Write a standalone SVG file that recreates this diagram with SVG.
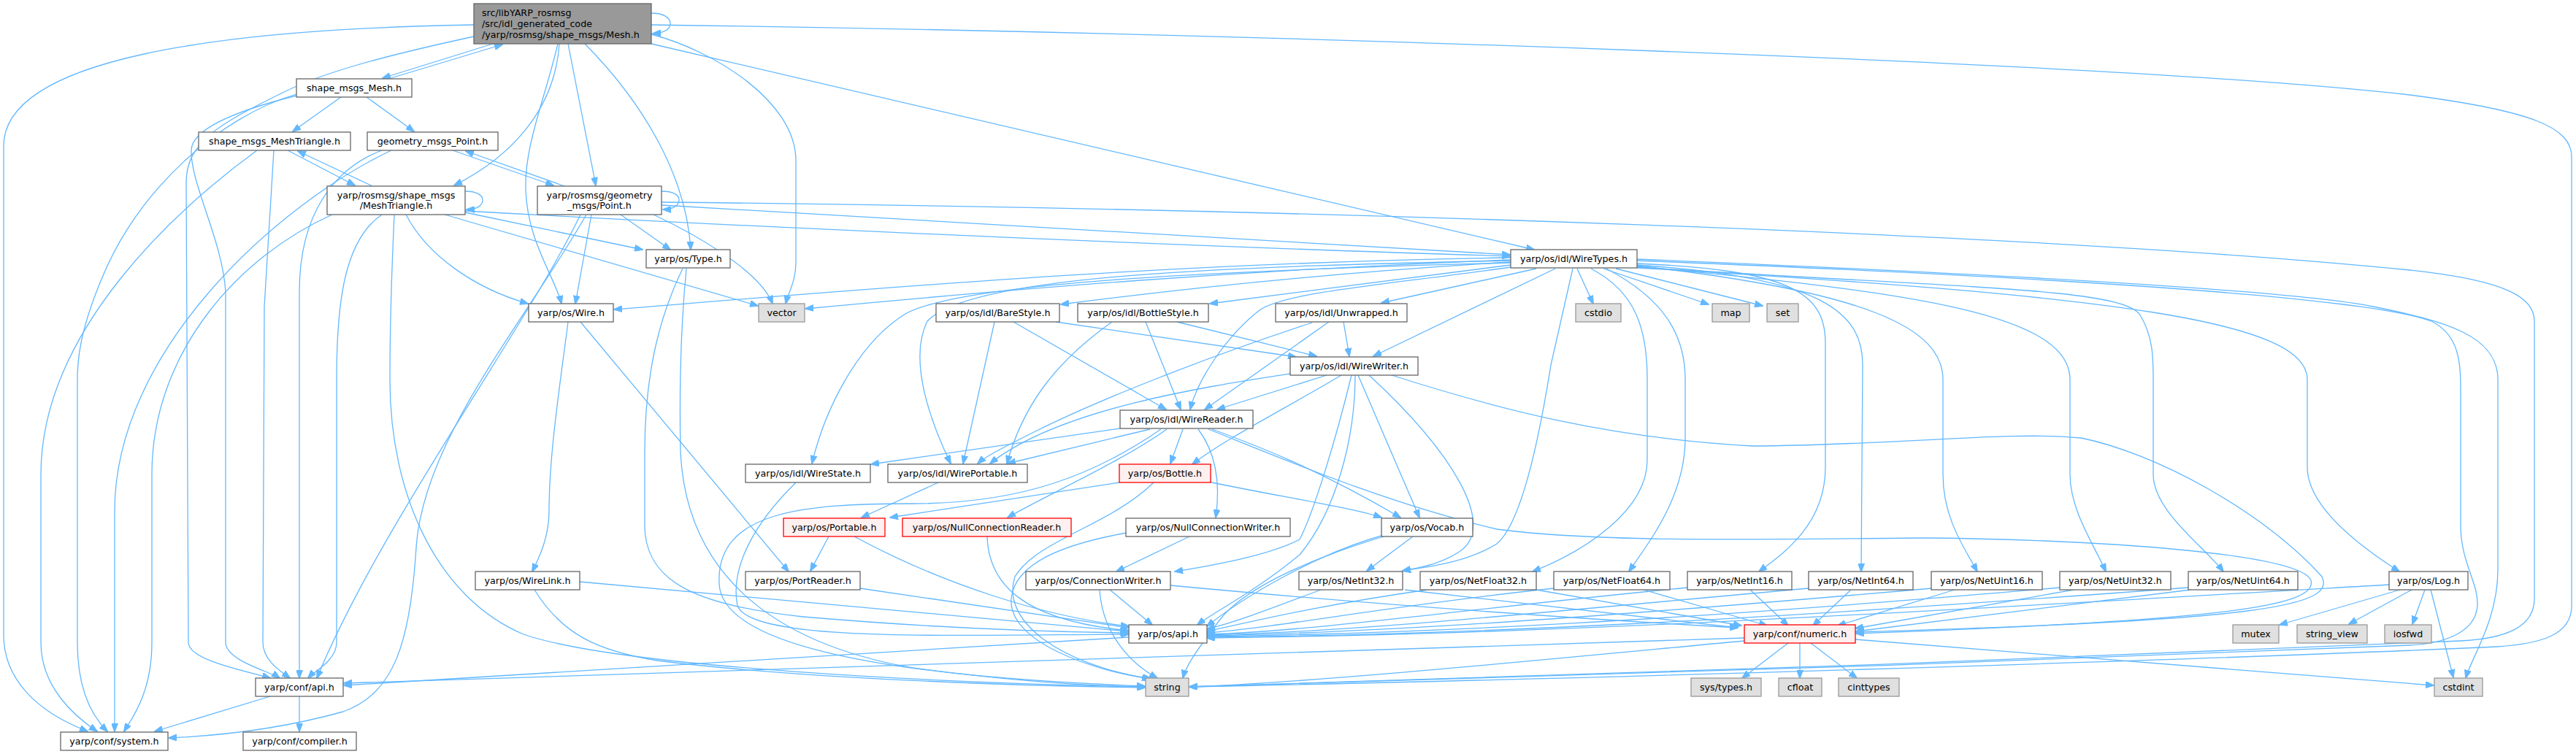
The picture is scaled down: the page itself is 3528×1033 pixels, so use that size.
<svg xmlns="http://www.w3.org/2000/svg" width="3528" height="1033" viewBox="0 0 3528 1033">
<style>
.n rect{fill:#ffffff;stroke:#666666;stroke-width:1.3}
.g rect{fill:#e0e0e0;stroke:#999999;stroke-width:1.3}
.r rect{fill:#fff0f0;stroke:#ff0000;stroke-width:1.3}
.m rect{fill:#999999;stroke:#666666;stroke-width:1.3}
text{font-family:"DejaVu Sans",Verdana,sans-serif;font-size:12.7px;fill:#000000;text-anchor:middle}
.m text{text-anchor:start}
.e path{fill:none;stroke:#63b8ff;stroke-width:1.3;marker-end:url(#a)}
</style>
<defs>
<marker id="a" markerWidth="12" markerHeight="9" refX="11" refY="4.5" orient="auto" markerUnits="userSpaceOnUse"><path d="M0,0L12,4.5L0,9z" fill="#63b8ff" stroke="#63b8ff" stroke-width="1"/></marker>
</defs>
<rect width="3528" height="1033" fill="#ffffff"/>
<g id="edges" class="e">
<path d="M892,18 C910,18 918,25 918,32 C918,40 910,45 894,46"/>
<path d="M675,60 L524,107"/>
<path d="M532,108 L688,61"/>
<path d="M649,34 C300,40 5,80 5,200 L5,870 C5,930 50,975 120,1002"/>
<path d="M649,50 C520,78 440,100 385,128 C300,170 255,195 255,250 L258,880 C258,905 340,920 370,929"/>
<path d="M406,129 C300,160 190,260 140,380 C115,440 106,480 106,520 L106,880 C106,950 130,985 147,1002"/>
<path d="M406,131 C330,150 264,175 262,205 C260,250 305,330 309,400 L309,880 C309,905 370,920 383,929"/>
<path d="M352,206 C250,280 56,450 56,650 L56,880 C56,940 100,980 133,1002"/>
<path d="M375,206 L362,420 L360,880 C360,905 385,920 397,929"/>
<path d="M536,206 C380,280 157,480 157,700 L157,1002"/>
<path d="M523,206 C460,230 410,290 410,400 L410,929"/>
<path d="M455,294 C330,350 208,480 208,650 L208,880 C208,950 180,985 170,1002"/>
<path d="M523,294 C470,330 461,420 461,520 L461,880 C461,905 430,920 422,929"/>
<path d="M766,60 C760,150 700,215 622,254"/>
<path d="M764,60 C745,140 718,200 720,260 C722,330 760,380 769,416"/>
<path d="M778,60 L816,254"/>
<path d="M801,60 C880,140 940,240 946,342"/>
<path d="M892,47 C980,70 1090,140 1090,220 L1090,360 C1090,385 1080,400 1076,416"/>
<path d="M892,60 L2101,342"/>
<path d="M892,34 C1700,45 2900,85 3300,130 C3470,152 3522,175 3522,215 L3522,830 C3522,870 3480,882 3420,886 C3000,905 2100,932 1629,941"/>
<path d="M467,133 L401,180"/>
<path d="M502,133 L567,180"/>
<path d="M394,206 L486,254"/>
<path d="M510,255 L408,207"/>
<path d="M620,206 L758,254"/>
<path d="M773,255 L638,207"/>
<path d="M637,262 C652,262 661,267 661,274 C661,281 654,287 639,287"/>
<path d="M906,262 C922,262 930,267 930,274 C930,281 922,287 908,287"/>
<path d="M540,294 C536,380 534,450 534,520 C534,680 600,820 717,869 C850,915 1300,936 1568,941"/>
<path d="M556,294 C585,350 650,395 723,416"/>
<path d="M609,294 L1038,419"/>
<path d="M637,291 L880,342"/>
<path d="M637,289 C1100,315 1700,340 2068,351"/>
<path d="M795,294 C720,450 520,720 434,929"/>
<path d="M803,294 C720,440 580,600 570,750 C562,880 540,950 470,975 C380,1000 300,1008 231,1011"/>
<path d="M810,294 L788,416"/>
<path d="M850,294 L918,342"/>
<path d="M895,294 C950,320 1040,370 1058,416"/>
<path d="M906,281 L2068,349"/>
<path d="M906,277 C1800,286 2800,320 3300,370 C3440,385 3471,410 3471,440 L3471,820 C3471,860 3430,875 3370,878 C2900,900 2000,932 1629,941"/>
<path d="M935,368 C900,440 883,520 883,620 L883,720 C883,800 960,830 1100,845 C1300,862 1450,866 1545,867"/>
<path d="M940,368 C933,440 930,520 932,620 C940,780 1050,880 1250,915 C1400,935 1500,940 1568,941"/>
<path d="M778,441 C768,520 752,620 752,700 C752,740 735,770 729,783"/>
<path d="M795,441 L1080,783"/>
<path d="M794,797 L1545,865"/>
<path d="M732,808 C770,870 820,892 900,905 C1100,930 1400,940 1568,942"/>
<path d="M1178,806 L1546,860"/>
<path d="M1135,735 L1110,782"/>
<path d="M1170,735 C1290,800 1430,845 1546,858"/>
<path d="M1352,735 C1354,800 1400,850 1546,864"/>
<path d="M1090,661 C1030,720 1000,780 1010,830 C1030,880 1300,870 1546,869"/>
<path d="M1285,661 L1180,709"/>
<path d="M1534,587 L1193,636"/>
<path d="M1575,588 L1380,635"/>
<path d="M1620,588 L1603,635"/>
<path d="M1598,588 C1540,630 1430,680 1380,709"/>
<path d="M1641,588 C1665,620 1672,660 1665,709"/>
<path d="M1660,588 C1720,610 1800,640 1918,709"/>
<path d="M1655,588 C1760,630 1900,690 2050,725 C2200,745 2450,738 2640,737 C2900,740 3150,760 3165,795 C3175,830 3050,850 2542,868"/>
<path d="M1906,514 C2050,560 2200,600 2400,611 C2600,610 2750,590 2850,600 C2950,620 3100,700 3180,790 C3200,830 3100,850 2542,866"/>
<path d="M1590,588 C1500,650 1400,690 1250,690 C1100,690 980,700 985,800 C990,900 1300,930 1568,940"/>
<path d="M1533,661 L1219,709"/>
<path d="M1655,660 C1750,680 1850,695 1892,709"/>
<path d="M1580,661 C1520,720 1420,740 1390,790 C1370,850 1450,910 1575,930"/>
<path d="M1629,735 L1529,783"/>
<path d="M1543,730 C1460,745 1390,770 1385,820 C1380,880 1500,920 1577,930"/>
<path d="M1520,808 L1578,856"/>
<path d="M1506,808 C1510,870 1550,910 1585,929"/>
<path d="M1603,802 C1900,830 2200,850 2380,860"/>
<path d="M1817,514 L1667,561"/>
<path d="M1837,514 C1760,560 1680,600 1633,636"/>
<path d="M1851,514 C1830,600 1800,700 1780,739 C1740,760 1660,775 1609,783"/>
<path d="M1856,514 C1856,600 1830,700 1780,760 C1720,810 1660,840 1640,856"/>
<path d="M1860,514 L1944,709"/>
<path d="M1875,514 C1990,620 2050,720 2000,755 C1970,775 1940,778 1921,782"/>
<path d="M1767,512 C1650,530 1450,560 1356,635"/>
<path d="M1840,441 L1848,488"/>
<path d="M1820,441 L1650,561"/>
<path d="M1797,442 C1650,490 1500,550 1420,590 C1380,610 1350,625 1339,635"/>
<path d="M1446,441 L1775,489"/>
<path d="M1388,441 L1597,561"/>
<path d="M1362,441 L1319,635"/>
<path d="M1612,441 L1803,488"/>
<path d="M1569,441 L1617,561"/>
<path d="M1523,441 C1440,500 1400,560 1379,635"/>
<path d="M2069,353 C1600,360 1200,395 841,424"/>
<path d="M2069,356 C1700,370 1400,395 1103,423"/>
<path d="M2069,359 C1800,375 1600,398 1453,417"/>
<path d="M2069,363 L1657,416"/>
<path d="M2104,368 L1892,415"/>
<path d="M2130,368 L1881,488"/>
<path d="M2069,366 C1900,390 1760,400 1725,425 C1680,460 1640,520 1630,561"/>
<path d="M2069,357 C1700,365 1330,375 1270,440 C1240,500 1285,600 1302,635"/>
<path d="M2069,360 C1700,370 1320,385 1240,430 C1175,470 1130,560 1112,635"/>
<path d="M2160,368 L2182,416"/>
<path d="M2196,368 L2340,417"/>
<path d="M2213,368 L2414,419"/>
<path d="M2154,368 L2124,500 C2105,620 2080,720 2050,745 C2010,770 1960,776 1921,782"/>
<path d="M2179,368 C2240,400 2256,450 2256,520 L2256,630 C2256,700 2170,755 2099,783"/>
<path d="M2200,368 C2280,410 2308,460 2308,520 L2308,600 C2308,680 2260,740 2231,783"/>
<path d="M2242,361 C2450,370 2500,400 2500,470 L2500,640 C2500,720 2440,760 2409,783"/>
<path d="M2242,363 C2500,380 2551,430 2551,500 L2549,783"/>
<path d="M2242,364 C2560,400 2661,450 2661,520 L2661,650 C2661,710 2690,750 2708,783"/>
<path d="M2242,365 C2620,400 2835,430 2835,520 L2835,650 C2835,700 2870,750 2884,783"/>
<path d="M2242,366 C2700,395 2900,395 2930,430 C2949,460 2949,490 2949,520 L2949,650 C2949,700 3020,750 3045,783"/>
<path d="M2242,367 C2900,405 3160,440 3160,520 L3160,640 C3160,700 3250,760 3286,783"/>
<path d="M2242,355 C2800,378 3150,400 3250,420 C3350,440 3421,460 3421,520 L3421,780 C3421,850 3385,900 3377,929"/>
<path d="M2242,357 C2900,383 3250,410 3330,440 C3370,460 3370,500 3370,540 L3370,720 C3370,770 3395,800 3393,830 C3390,870 3340,882 3300,884 C2800,905 2000,933 1629,941"/>
<path d="M1895,735 C1780,770 1700,810 1670,850 C1640,890 1625,910 1620,929"/>
<path d="M1892,734 C1800,760 1700,820 1653,858"/>
<path d="M1935,735 L1872,782"/>
<path d="M1809,808 C1750,830 1700,850 1653,862"/>
<path d="M1924,808 L2380,860"/>
<path d="M1955,808 C1800,830 1700,855 1653,865"/>
<path d="M2104,808 L2385,857"/>
<path d="M2128,806 C1900,830 1750,860 1653,867"/>
<path d="M2251,808 L2420,857"/>
<path d="M2311,805 C2000,835 1800,865 1653,869"/>
<path d="M2397,808 L2449,857"/>
<path d="M2477,806 C2100,840 1850,866 1653,870"/>
<path d="M2535,808 L2483,857"/>
<path d="M2646,806 C2200,845 1900,866 1653,871"/>
<path d="M2677,808 L2517,857"/>
<path d="M2821,805 C2300,850 1950,868 1653,872"/>
<path d="M2840,808 L2541,861"/>
<path d="M2997,805 C2400,850 2000,870 1653,873"/>
<path d="M3000,808 L2542,865"/>
<path d="M3272,801 C2600,840 2100,870 1653,874"/>
<path d="M3287,808 L3122,856"/>
<path d="M3303,808 L3217,855"/>
<path d="M3321,808 L3304,855"/>
<path d="M3329,808 L3360,928"/>
<path d="M2449,881 L2386,929"/>
<path d="M2465,881 L2465,929"/>
<path d="M2480,881 L2543,929"/>
<path d="M2541,876 L3333,939"/>
<path d="M2389,874 L471,936"/>
<path d="M2389,878 C2100,905 1800,935 1629,941"/>
<path d="M1546,873 L471,939"/>
<path d="M370,954 L212,1002"/>
<path d="M410,954 L410,1002"/>
</g>
<g id="n_main" class="m"><rect x="649" y="5" width="243" height="55"/><text x="660" y="21.5">src/libYARP_rosmsg</text><text x="660" y="36.5">/src/idl_generated_code</text><text x="660" y="51.5">/yarp/rosmsg/shape_msgs/Mesh.h</text></g>
<g id="n_smm" class="n"><rect x="406" y="108" width="158" height="25"/><text x="485" y="125">shape_msgs_Mesh.h</text></g>
<g id="n_smt" class="n"><rect x="272" y="181" width="208" height="25"/><text x="376" y="198">shape_msgs_MeshTriangle.h</text></g>
<g id="n_gmp" class="n"><rect x="503" y="181" width="179" height="25"/><text x="592.5" y="198">geometry_msgs_Point.h</text></g>
<g id="n_rmt" class="n"><rect x="448" y="255" width="189" height="39"/><text x="542.5" y="271.5">yarp/rosmsg/shape_msgs</text><text x="542.5" y="285.5">/MeshTriangle.h</text></g>
<g id="n_rgp" class="n"><rect x="736" y="255" width="170" height="39"/><text x="821" y="271.5">yarp/rosmsg/geometry</text><text x="821" y="285.5">_msgs/Point.h</text></g>
<g id="n_type" class="n"><rect x="885" y="342" width="115" height="25"/><text x="942.5" y="359">yarp/os/Type.h</text></g>
<g id="n_wiretypes" class="n"><rect x="2069" y="342" width="173" height="25"/><text x="2155.5" y="359">yarp/os/idl/WireTypes.h</text></g>
<g id="n_wire" class="n"><rect x="724" y="416" width="116" height="25"/><text x="782" y="433">yarp/os/Wire.h</text></g>
<g id="n_vector" class="g"><rect x="1039" y="416" width="63" height="25"/><text x="1070.5" y="433">vector</text></g>
<g id="n_bare" class="n"><rect x="1282" y="416" width="169" height="25"/><text x="1366.5" y="433">yarp/os/idl/BareStyle.h</text></g>
<g id="n_bottlestyle" class="n"><rect x="1476" y="416" width="179" height="25"/><text x="1565.5" y="433">yarp/os/idl/BottleStyle.h</text></g>
<g id="n_unwrapped" class="n"><rect x="1747" y="416" width="180" height="25"/><text x="1837" y="433">yarp/os/idl/Unwrapped.h</text></g>
<g id="n_cstdio" class="g"><rect x="2158" y="416" width="62" height="25"/><text x="2189" y="433">cstdio</text></g>
<g id="n_map" class="g"><rect x="2345" y="416" width="51" height="25"/><text x="2370.5" y="433">map</text></g>
<g id="n_set" class="g"><rect x="2420" y="416" width="43" height="25"/><text x="2441.5" y="433">set</text></g>
<g id="n_wirewriter" class="n"><rect x="1767" y="489" width="175" height="25"/><text x="1854.5" y="506">yarp/os/idl/WireWriter.h</text></g>
<g id="n_wirereader" class="n"><rect x="1534" y="562" width="182" height="25"/><text x="1625" y="579">yarp/os/idl/WireReader.h</text></g>
<g id="n_wirestate" class="n"><rect x="1021" y="636" width="171" height="25"/><text x="1106.5" y="653">yarp/os/idl/WireState.h</text></g>
<g id="n_wireportable" class="n"><rect x="1216" y="636" width="191" height="25"/><text x="1311.5" y="653">yarp/os/idl/WirePortable.h</text></g>
<g id="n_bottle" class="r"><rect x="1533" y="636" width="125" height="25"/><text x="1595.5" y="653">yarp/os/Bottle.h</text></g>
<g id="n_portable" class="r"><rect x="1073" y="710" width="139" height="25"/><text x="1142.5" y="727">yarp/os/Portable.h</text></g>
<g id="n_ncr" class="r"><rect x="1236" y="710" width="231" height="25"/><text x="1351.5" y="727">yarp/os/NullConnectionReader.h</text></g>
<g id="n_ncw" class="n"><rect x="1542" y="710" width="225" height="25"/><text x="1654.5" y="727">yarp/os/NullConnectionWriter.h</text></g>
<g id="n_vocab" class="n"><rect x="1892" y="710" width="125" height="25"/><text x="1954.5" y="727">yarp/os/Vocab.h</text></g>
<g id="n_wirelink" class="n"><rect x="651" y="783" width="143" height="25"/><text x="722.5" y="800">yarp/os/WireLink.h</text></g>
<g id="n_portreader" class="n"><rect x="1021" y="783" width="157" height="25"/><text x="1099.5" y="800">yarp/os/PortReader.h</text></g>
<g id="n_connwriter" class="n"><rect x="1405" y="783" width="198" height="25"/><text x="1504" y="800">yarp/os/ConnectionWriter.h</text></g>
<g id="n_netint32" class="n"><rect x="1779" y="783" width="142" height="25"/><text x="1850" y="800">yarp/os/NetInt32.h</text></g>
<g id="n_netfloat32" class="n"><rect x="1945" y="783" width="159" height="25"/><text x="2024.5" y="800">yarp/os/NetFloat32.h</text></g>
<g id="n_netfloat64" class="n"><rect x="2128" y="783" width="159" height="25"/><text x="2207.5" y="800">yarp/os/NetFloat64.h</text></g>
<g id="n_netint16" class="n"><rect x="2311" y="783" width="143" height="25"/><text x="2382.5" y="800">yarp/os/NetInt16.h</text></g>
<g id="n_netint64" class="n"><rect x="2477" y="783" width="143" height="25"/><text x="2548.5" y="800">yarp/os/NetInt64.h</text></g>
<g id="n_netuint16" class="n"><rect x="2645" y="783" width="152" height="25"/><text x="2721" y="800">yarp/os/NetUint16.h</text></g>
<g id="n_netuint32" class="n"><rect x="2821" y="783" width="152" height="25"/><text x="2897" y="800">yarp/os/NetUint32.h</text></g>
<g id="n_netuint64" class="n"><rect x="2997" y="783" width="150" height="25"/><text x="3072" y="800">yarp/os/NetUint64.h</text></g>
<g id="n_log" class="n"><rect x="3272" y="783" width="108" height="25"/><text x="3326" y="800">yarp/os/Log.h</text></g>
<g id="n_osapi" class="n"><rect x="1546" y="856" width="107" height="25"/><text x="1599.5" y="873">yarp/os/api.h</text></g>
<g id="n_numeric" class="r"><rect x="2389" y="856" width="152" height="25"/><text x="2465" y="873">yarp/conf/numeric.h</text></g>
<g id="n_mutex" class="g"><rect x="3058" y="856" width="63" height="25"/><text x="3089.5" y="873">mutex</text></g>
<g id="n_string_view" class="g"><rect x="3146" y="856" width="96" height="25"/><text x="3194" y="873">string_view</text></g>
<g id="n_iosfwd" class="g"><rect x="3266" y="856" width="64" height="25"/><text x="3298" y="873">iosfwd</text></g>
<g id="n_confapi" class="n"><rect x="350" y="929" width="120" height="25"/><text x="410" y="946">yarp/conf/api.h</text></g>
<g id="n_string" class="g"><rect x="1569" y="929" width="59" height="25"/><text x="1598.5" y="946">string</text></g>
<g id="n_systypes" class="g"><rect x="2316" y="929" width="96" height="25"/><text x="2364" y="946">sys/types.h</text></g>
<g id="n_cfloat" class="g"><rect x="2436" y="929" width="59" height="25"/><text x="2465.5" y="946">cfloat</text></g>
<g id="n_cinttypes" class="g"><rect x="2518" y="929" width="83" height="25"/><text x="2559.5" y="946">cinttypes</text></g>
<g id="n_cstdint" class="g"><rect x="3334" y="929" width="66" height="25"/><text x="3367" y="946">cstdint</text></g>
<g id="n_system" class="n"><rect x="83" y="1003" width="147" height="25"/><text x="156.5" y="1020">yarp/conf/system.h</text></g>
<g id="n_compiler" class="n"><rect x="333" y="1003" width="155" height="25"/><text x="410.5" y="1020">yarp/conf/compiler.h</text></g>
</svg>
